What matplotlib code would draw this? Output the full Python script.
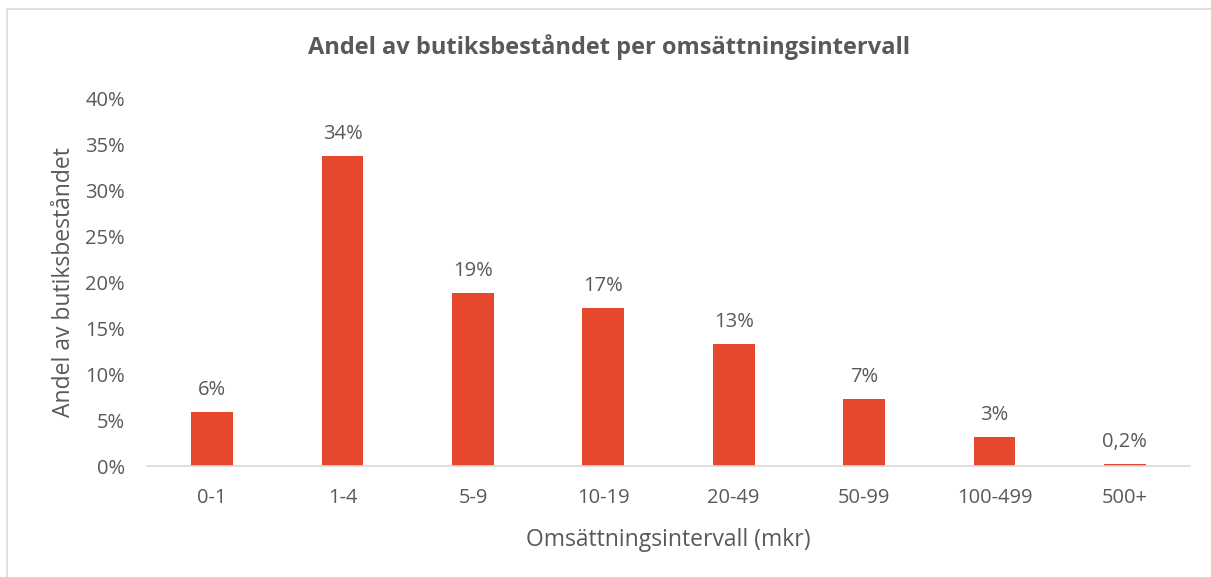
import matplotlib.pyplot as plt
import matplotlib.patches as mpatches

# Data
categories = ['0-1', '1-4', '5-9', '10-19', '20-49', '50-99', '100-499', '500+']
shares = [5.9, 33.8, 18.9, 17.2, 13.3, 7.3, 3.2, 0.2]
labels = ['6%', '34%', '19%', '17%', '13%', '7%', '3%', '0,2%']
yticks = [0, 5, 10, 15, 20, 25, 30, 35, 40]

BAR_COLOR = '#E6482D'
TEXT_COLOR = '#595959'

plt.rcParams['font.family'] = ['Open Sans', 'DejaVu Sans']

fig = plt.figure(figsize=(12.11, 5.77), dpi=100)
ax = fig.add_axes([147 / 1211, 1 - 466 / 577, (1190 - 147) / 1211, (466 - 99) / 577])

x = range(len(categories))
ax.bar(x, shares, width=0.32, color=BAR_COLOR, zorder=2)

for xi, v, lab in zip(x, shares, labels):
    ax.text(xi, v + 1.3, lab, ha='center', va='bottom', fontsize=14.5, color=TEXT_COLOR)

ax.set_xlim(-0.5, len(categories) - 0.5)
ax.set_ylim(0, 40)
ax.set_xticks(list(x))
ax.set_xticklabels(categories, fontsize=14.5, color=TEXT_COLOR)
ax.set_yticks(yticks)
ax.set_yticklabels([f'{t}%' for t in yticks], fontsize=14.5, color=TEXT_COLOR)
ax.tick_params(axis='both', length=0)
ax.tick_params(axis='x', pad=16)
ax.tick_params(axis='y', pad=16)

for side in ['top', 'right', 'left']:
    ax.spines[side].set_visible(False)
ax.spines['bottom'].set_color('#D9D9D9')
ax.spines['bottom'].set_linewidth(1.2)

ax.set_xlabel('Omsättningsintervall (mkr)', fontsize=16.5, color=TEXT_COLOR)
ax.xaxis.set_label_coords(0.5, -(528 - 466) / 367)
ax.set_ylabel('Andel av butiksbeståndet', fontsize=16.5, color=TEXT_COLOR)
ax.yaxis.set_label_coords(-(147 - 76) / 1043, 0.5)

fig.text(0.5 * (7 + 1211) / 1211, 1 - 47 / 577, 'Andel av butiksbeståndet per omsättningsintervall',
         ha='center', va='center', fontsize=17, fontweight='bold', color=TEXT_COLOR)

# chart frame (only left/top edges visible in the crop)
frame = mpatches.Rectangle((7 / 1211, -0.1), 1.2, 1 - 9 / 577 + 0.1, transform=fig.transFigure,
                           fill=False, edgecolor='#D9D9D9', linewidth=1.2)
fig.patches.append(frame)

fig.savefig('out.png', dpi=100, facecolor='white')
